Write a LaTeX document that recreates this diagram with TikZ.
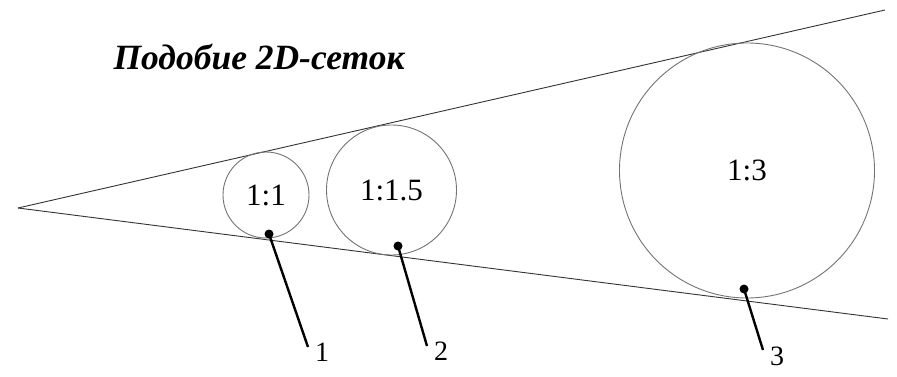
\documentclass[tikz,border=0pt]{standalone}
\usepackage{fontspec}
\setmainfont{Liberation Serif}
\usepackage{tikz}
\usetikzlibrary{positioning}
\tikzset{
  ray/.style={draw=black!80, line width=0.9pt},
  mesh/.style={circle, draw=black!55, line width=0.9pt, inner sep=0pt,
               font=\fontsize{31}{31}\selectfont},
  pin/.style={circle, fill=black, minimum size=9pt, inner sep=0pt},
  lead/.style={line width=2.4pt},
  num/.style={font=\fontsize{28}{28}\selectfont, inner sep=1pt},
}
\begin{document}
\begin{tikzpicture}[x=1pt, y=-1pt]
        \useasboundingbox (0,0) rectangle (897,377);
        \node[font=\fontsize{35.5}{35.5}\selectfont\bfseries\itshape, anchor=base west]
          (t) at (110,70) {Подобие 2D-сеток};
        % клин
        \coordinate (o) at (18,208);
        \coordinate (u) at (885,10);
        \coordinate (l) at (888,319);
        \draw[ray] (o)--(u); \draw[ray] (o)--(l);
        % сетки
        \node[mesh, minimum size=86pt] (c1) at (266,195) {1:1};
        \node[mesh, minimum size=130pt] (c2) at (391.5,190) {1:1.5};
        \node[mesh, minimum size=255pt] (c3) at (747,170.5) {1:3};
        % выноски
        \node[pin] (p1) at (269,234) {};
        \node[pin] (p2) at (398,246) {};
        \node[pin] (p3) at (744,289) {};
        \coordinate (e1) at (308,347);
        \coordinate (e2) at (427,346);
        \coordinate (e3) at (763,350);
        \draw[lead] (p1.center)--(e1); \draw[lead] (p2.center)--(e2);
        \draw[lead] (p3.center)--(e3);
        \node[num, right=6pt of e1, yshift=-5pt] (n1) {1};
        \node[num, right=6pt of e2, yshift=-5pt] (n2) {2};
        \node[num, right=6pt of e3, yshift=-6pt] (n3) {3};
      \end{tikzpicture}
\end{document}
